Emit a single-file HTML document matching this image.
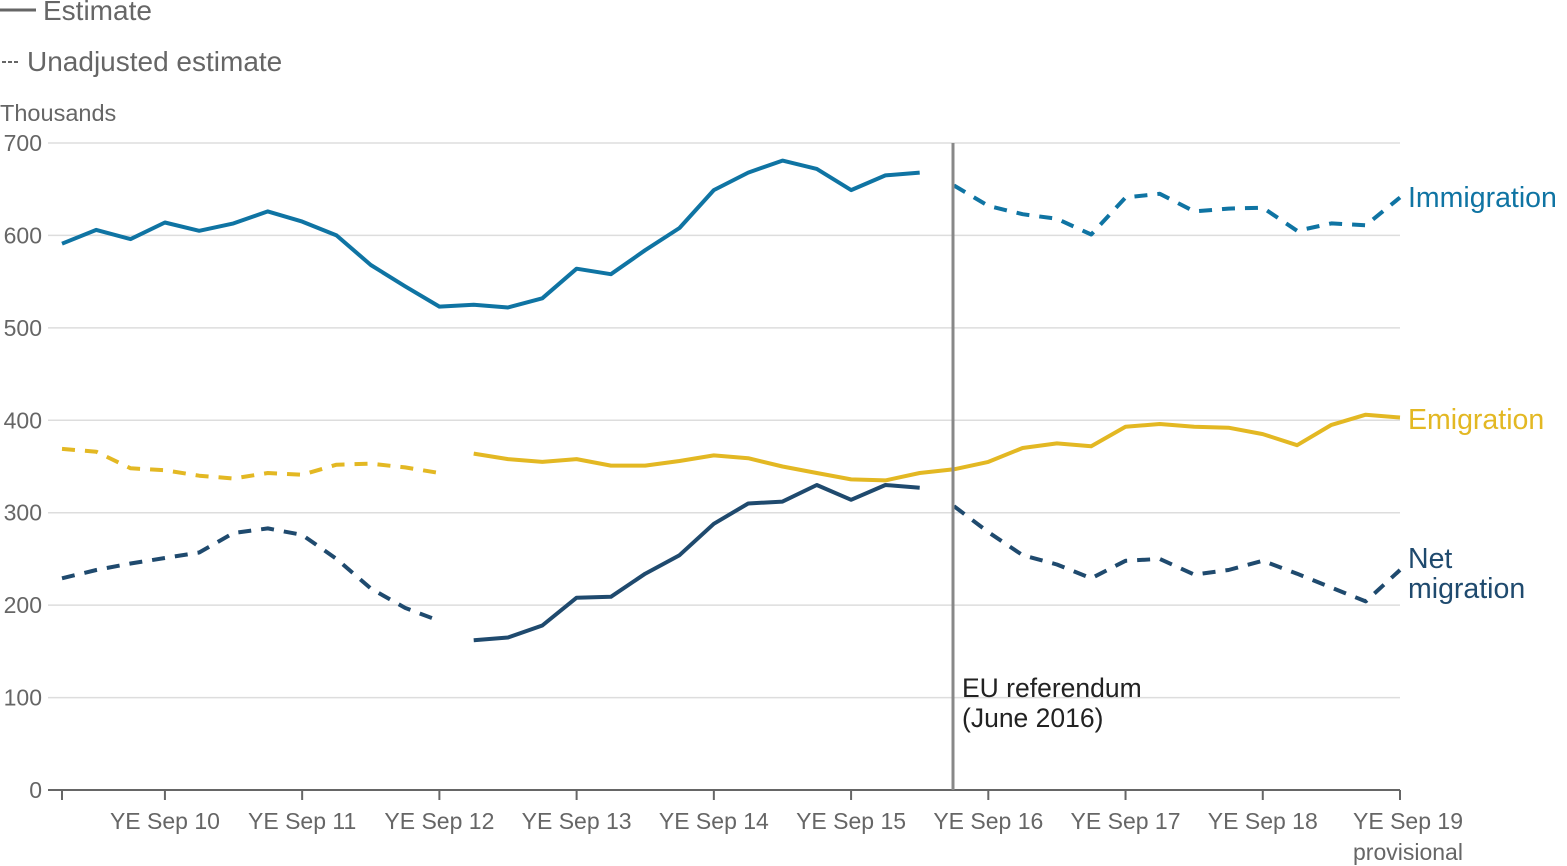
<!DOCTYPE html>
<html><head><meta charset="utf-8">
<style>
html,body{margin:0;padding:0;background:#fff;}
svg{display:block;font-family:"Liberation Sans",sans-serif;}
</style></head>
<body>
<svg id="chart" width="1567" height="866" viewBox="0 0 1567 866">
  <g>
    <line x1="0" y1="10" x2="36" y2="10" stroke="#666" stroke-width="3"/>
    <text x="43" y="20" font-size="28" fill="#666">Estimate</text>
    <line x1="2" y1="62" x2="20" y2="62" stroke="#666" stroke-width="2" stroke-dasharray="4,2"/>
    <text x="27" y="71" font-size="28" fill="#666">Unadjusted estimate</text>
  </g>
  <text x="0" y="121" font-size="23.5" fill="#666">Thousands</text>
  <g id="grid"></g>
  <g id="xaxis"></g>
  <g id="series"></g>
  <line x1="953" y1="143" x2="953" y2="790" stroke="#888" stroke-width="3"/>
  <text x="962" y="697" font-size="26.5" fill="#222"><tspan x="962">EU referendum</tspan><tspan x="962" dy="30">(June 2016)</tspan></text>
  <text x="1408" y="207" font-size="28.5" fill="#0f74a3">Immigration</text>
  <text x="1408" y="429" font-size="28.5" fill="#e3b823">Emigration</text>
  <text x="1408" y="568" font-size="28.5" fill="#1f4a6e"><tspan x="1408">Net</tspan><tspan x="1408" dy="30">migration</tspan></text>
</svg>
<script>
const yTicks = [0,100,200,300,400,500,600,700];
const xTickLabels = ["YE Sep 10","YE Sep 11","YE Sep 12","YE Sep 13","YE Sep 14","YE Sep 15","YE Sep 16","YE Sep 17","YE Sep 18","YE Sep 19"];
const xTickIndex = [3,7,11,15,19,23,27,31,35,39];
const N = null;
const immSolid = [591,606,596,614,605,613,626,615,600,568,545,523,525,522,532,564,558,584,608,649,668,681,672,649,665,668,N,N,N,N,N,N,N,N,N,N,N,N,N,N];
const immDashed = [N,N,N,N,N,N,N,N,N,N,N,N,N,N,N,N,N,N,N,N,N,N,N,N,N,N,654,632,623,618,601,641,645,626,629,630,605,613,611,641];
const emiDashed = [369,366,348,346,340,337,343,341,352,353,349,343,N,N,N,N,N,N,N,N,N,N,N,N,N,N,N,N,N,N,N,N,N,N,N,N,N,N,N,N];
const emiSolid = [N,N,N,N,N,N,N,N,N,N,N,N,364,358,355,358,351,351,356,362,359,350,343,336,335,343,347,355,370,375,372,393,396,393,392,385,373,395,406,403];
const netDashedA = [229,238,245,251,257,278,283,276,250,218,197,183,N,N,N,N,N,N,N,N,N,N,N,N,N,N,N,N,N,N,N,N,N,N,N,N,N,N,N,N];
const netSolid = [N,N,N,N,N,N,N,N,N,N,N,N,162,165,178,208,209,234,254,288,310,312,330,314,330,327,N,N,N,N,N,N,N,N,N,N,N,N,N,N];
const netDashedB = [N,N,N,N,N,N,N,N,N,N,N,N,N,N,N,N,N,N,N,N,N,N,N,N,N,N,307,279,254,244,229,248,250,233,238,248,234,219,204,238];

const NS="http://www.w3.org/2000/svg";
const X0=62, X1=1400, Y0=790, Y700=143;
const x = i => X0 + i*(X1-X0)/39;
const y = v => Y0 - v*(Y0-Y700)/700;
function mk(tag, attrs, parent){const e=document.createElementNS(NS,tag);for(const k in attrs)e.setAttribute(k,attrs[k]);parent.appendChild(e);return e;}

const grid=document.getElementById('grid');
yTicks.forEach(v=>{
  const l=mk('line',{x1:48,x2:1400,y1:y(v),y2:y(v),stroke:v===0?'#666':'#ddd','stroke-width':v===0?2:1.5},grid);
  
  
  const t=mk('text',{x:42,y:y(v)+8,'font-size':23,fill:'#666','text-anchor':'end'},grid);
  t.textContent=v;
  
  
});
const xa=document.getElementById('xaxis');
const t0=mk('line',{x1:x(0),x2:x(0),y1:790,y2:800,stroke:'#666','stroke-width':2},xa);


xTickIndex.forEach((idx,k)=>{
  const tk=mk('line',{x1:x(idx),x2:x(idx),y1:790,y2:800,stroke:'#666','stroke-width':2},xa);
  
  
  const t=mk('text',{x:x(idx)+(k===9?8:0),y:829,'font-size':23,fill:'#666','text-anchor':'middle'},xa);
  t.textContent=xTickLabels[k];
  
  
});
const pv=mk('text',{x:x(39)+8,y:860,'font-size':23,fill:'#666','text-anchor':'middle'},xa);
pv.textContent='provisional';



const sg=document.getElementById('series');
function draw(arr,color,dashed,name){
  let d='';let pen=false;
  arr.forEach((v,i)=>{ if(v===null){pen=false;return;} d+=(pen?'L':'M')+x(i).toFixed(1)+','+y(v).toFixed(1); pen=true;});
  const p=mk('path',{d:d,fill:'none',stroke:color,'stroke-width':4,'stroke-linejoin':'round'},sg);
  if(dashed)p.setAttribute('stroke-dasharray','13,10');
  
  
}
draw(immSolid,'#0f74a3',false,'immigration-line');
draw(immDashed,'#0f74a3',true,'immigration-unadjusted-line');
draw(emiDashed,'#e3b823',true,'emigration-unadjusted-line');
draw(emiSolid,'#e3b823',false,'emigration-line');
draw(netDashedA,'#1f4a6e',true,'net-migration-unadjusted-line-early');
draw(netSolid,'#1f4a6e',false,'net-migration-line');
draw(netDashedB,'#1f4a6e',true,'net-migration-unadjusted-line-late');
</script>
</body></html>
